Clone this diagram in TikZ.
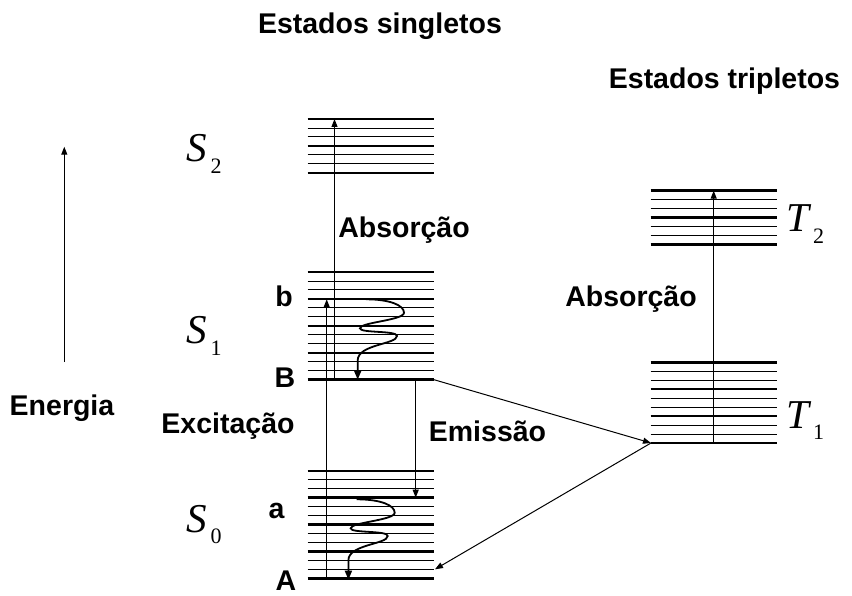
\documentclass[tikz,border=0pt]{standalone}
\usepackage{fontspec}
\setmainfont{Liberation Sans}
\newfontfamily\tms{Liberation Serif}
\usetikzlibrary{arrows.meta}
\tikzset{arc/.style={-{Triangle[length=8pt,width=6pt]}, line width=1pt},
         wave/.style={-{Triangle[length=9pt,width=7pt]}, line width=1.8pt},
         lbl/.style={font=\bfseries\fontsize{28.5}{28.5}\selectfont, inner sep=0pt, anchor=base},
         sym/.style={inner sep=0pt, anchor=base west}
}
% state name with subscript
\newcommand\stname[2]{{\tms\itshape\fontsize{41}{41}\selectfont #1}\kern4pt\raisebox{-11.5pt}{\tms\fontsize{22}{22}\selectfont #2}}
% x1, x2, top line, number of lines
\newcommand\band[4]{%
  \foreach \i in {1,...,#4}{%
    \pgfmathsetmacro\lw{mod(\i-1,3)==0 ? 2.4 : 0.9}
    \draw[line width=\lw pt] (#1,{#3+8.97*(\i-1)}) -- (#2,{#3+8.97*(\i-1)});
  }}
% wavy relaxation arrow
\newcommand\relaxarrow[1]{%
  \draw[wave, shift={(#1)}] (0,0) .. controls (24,0) and (38,6) .. (38,13.4)
     .. controls (38,21) and (-6,23) .. (-6,29)
     .. controls (-6,34) and (31,31) .. (31,36.7)
     .. controls (31,45) and (-8.3,45) .. (-8.3,61) -- (-8.3,80.4);}

\begin{document}
\begin{tikzpicture}[x=1pt, y=-1pt]
  \useasboundingbox (0,0) rectangle (852,596);
  % levels
  \band{307.5}{434}{119}{7}
  \band{307.5}{434}{272}{13}
  \band{307.5}{434}{470.7}{13}
  \band{650.7}{776.7}{190.7}{7}
  \band{650.7}{776.7}{362.3}{10}

  \coordinate (Et) at (64.3,146.7);
  \coordinate (Eb) at (64.3,362);
  \coordinate (A) at (326.7,578.3);
  \coordinate (b) at (326.7,299.3);
  \coordinate (B) at (334.5,379.7);
  \coordinate (S2t) at (334.5,119);
  \coordinate (Bem) at (415.7,379.7);
  \coordinate (aem) at (415.7,497.7);
  \coordinate (Br) at (434,379.7);
  \coordinate (T1l) at (651,443);
  \coordinate (S0r) at (435,569.3);
  \coordinate (T1a) at (713.7,443);
  \coordinate (T2t) at (713.7,190.7);
  \coordinate (w1) at (366,299.3);
  \coordinate (w0) at (356.7,499.3);

  \draw[arc] (Eb) -- (Et);
  \draw[arc] (A) -- (b);
  \draw[arc] (B) -- (S2t);
  \draw[arc] (Bem) -- (aem);
  \draw[arc] (Br) -- (T1l);
  \draw[arc] (T1l) -- (S0r);
  \draw[arc] (T1a) -- (T2t);
  \relaxarrow{w1}
  \relaxarrow{w0}

  \node[lbl] (sing) at (380,34) {Estados singletos};
  \node[lbl] (trip) at (724.5,89) {Estados tripletos};
  \node[lbl] (en) at (62,415) {Energia};
  \node[lbl] (exc) at (228,433) {Excitação};
  \node[lbl] (em) at (487.5,441) {Emissão};
  \node[lbl] (abs1) at (404,238) {Absorção};
  \node[lbl] (abs2) at (631,307) {Absorção};
  \node[lbl] (lb) at (284,306) {b};
  \node[lbl] (lB) at (285,387) {B};
  \node[lbl] (la) at (276.5,518) {a};
  \node[lbl] (lA) at (286,590) {A};

  \node[sym] (S2) at (186,162) {\stname{S}{2}};
  \node[sym] (S1) at (186,344) {\stname{S}{1}};
  \node[sym] (S0) at (186,532) {\stname{S}{0}};
  \node[sym] (T2) at (786,232) {\stname{T}{2}};
  \node[sym] (T1) at (786,428) {\stname{T}{1}};
\end{tikzpicture}
\end{document}
